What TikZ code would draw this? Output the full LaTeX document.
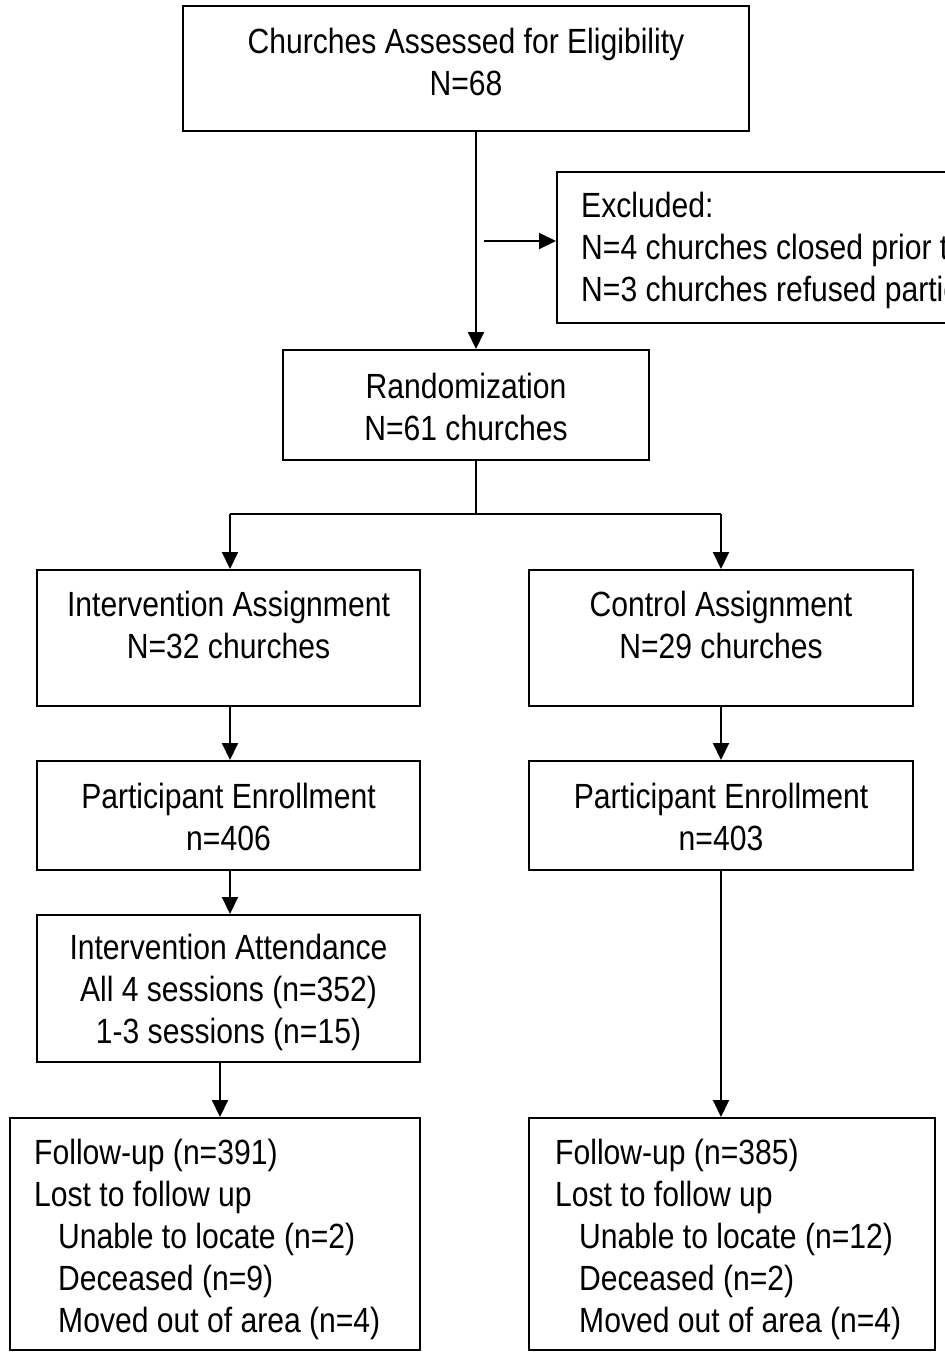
\documentclass[tikz,border=0pt]{standalone}
\usepackage{fontspec}
\setmainfont{Liberation Sans}[FakeStretch=0.86]
\usetikzlibrary{arrows.meta,calc}
\begin{document}
\begin{tikzpicture}[x=1pt,y=-1pt,
  box/.style={draw, line width=2pt, inner sep=0pt, rectangle},
  txt/.style={font=\fontsize{35pt}{42pt}\selectfont, inner sep=0pt, anchor=base, align=center},
  ltxt/.style={font=\fontsize{35pt}{42pt}\selectfont, inner sep=0pt, anchor=base west, align=left},
  conn/.style={line width=2pt},
  arr/.style={line width=2pt, -{Triangle[width=16pt,length=17pt]}}]
\useasboundingbox (0,0) rectangle (945,1353);
\clip (0,0) rectangle (945,1353);
\fill[white] (0,0) rectangle (945,1353);
% boxes
\node[box, minimum width=566pt, minimum height=125pt] (top) at (466,68.5) {};
\node[box, minimum width=450pt, minimum height=151pt] (excl) at (782,247.5) {};
\node[box, minimum width=366pt, minimum height=110pt] (rand) at (466,405) {};
\node[box, minimum width=383pt, minimum height=136pt] (ia) at (228.5,638) {};
\node[box, minimum width=384pt, minimum height=136pt] (ca) at (721,638) {};
\node[box, minimum width=383pt, minimum height=109pt] (pe1) at (228.5,815.5) {};
\node[box, minimum width=384pt, minimum height=109pt] (pe2) at (721,815.5) {};
\node[box, minimum width=383pt, minimum height=147pt] (att) at (228.5,988.5) {};
\node[box, minimum width=410pt, minimum height=232pt] (fu1) at (215,1234) {};
\node[box, minimum width=406pt, minimum height=232pt] (fu2) at (732,1234) {};
% texts (anchor = baseline of last line)
\node[txt] (ttop) at (466,95) {Churches Assessed for Eligibility\\N=68};
\node[ltxt] (texcl) at (581,301) {Excluded:\\N=4 churches closed prior to randomization\\N=3 churches refused participation};
\node[txt] (trand) at (466,440) {Randomization\\N=61 churches};
\node[txt] (tia) at (228.5,658) {Intervention Assignment\\N=32 churches};
\node[txt] (tca) at (721,658) {Control Assignment\\N=29 churches};
\node[txt] (tpe1) at (228.5,850) {Participant Enrollment\\n=406};
\node[txt] (tpe2) at (721,850) {Participant Enrollment\\n=403};
\node[txt] (tatt) at (228.5,1043) {Intervention Attendance\\All 4 sessions (n=352)\\1-3 sessions (n=15)};
\node[ltxt] (tfu1) at (34,1332) {Follow-up (n=391)\\Lost to follow up\\\hspace*{24pt}Unable to locate (n=2)\\\hspace*{24pt}Deceased (n=9)\\\hspace*{24pt}Moved out of area (n=4)};
\node[ltxt] (tfu2) at (555,1332) {Follow-up (n=385)\\Lost to follow up\\\hspace*{24pt}Unable to locate (n=12)\\\hspace*{24pt}Deceased (n=2)\\\hspace*{24pt}Moved out of area (n=4)};
% connectors
\coordinate (c0) at ($(top.south)+(10,0)$);
\draw[arr] (c0) -- (c0 |- rand.north);
\coordinate (ex0) at (484,241);
\draw[arr] (ex0) -- (excl.west |- ex0);
\coordinate (r0) at ($(rand.south)+(10,0)$);
\coordinate (br) at (476,514);
\coordinate (brl) at (230,514);
\coordinate (brr) at (721,514);
\draw[conn] (r0) -- (br);
\draw[conn] (brl) -- (brr);
\draw[arr] (brl) -- (brl |- ia.north);
\draw[arr] (brr) -- (brr |- ca.north);
\coordinate (l1) at (230,706);
\draw[arr] (l1 |- ia.south) -- (l1 |- pe1.north);
\draw[arr] (l1 |- pe1.south) -- (l1 |- att.north);
\coordinate (l2) at (220,1062);
\draw[arr] (l2 |- att.south) -- (l2 |- fu1.north);
\draw[arr] (brr |- ca.south) -- (brr |- pe2.north);
\draw[arr] (brr |- pe2.south) -- (brr |- fu2.north);
\end{tikzpicture}
\end{document}
